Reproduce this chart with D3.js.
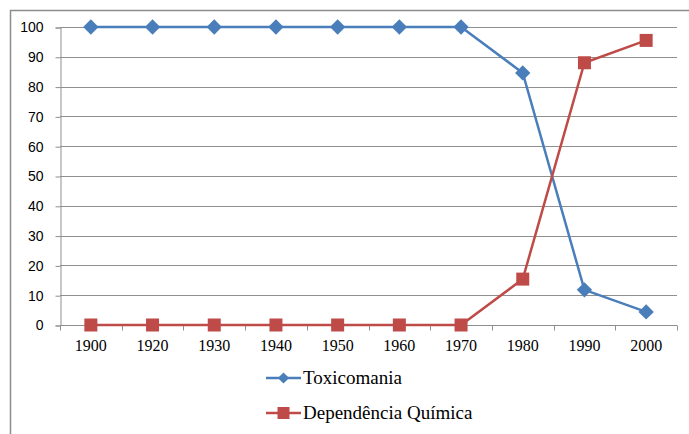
<!DOCTYPE html>
<html>
<head>
<meta charset="utf-8">
<script src="https://cdn.jsdelivr.net/npm/d3@7"></script>
<style>
  body { margin: 0; background: #fff; }
  svg { display: block; }
  .sans { font-family: "Liberation Sans", Arial, sans-serif; }
  .serif { font-family: "Liberation Serif", "Times New Roman", serif; }
</style>
</head>
<body>
<script>
// chart data
var years = ["1900", "1920", "1930", "1940", "1950", "1960", "1970", "1980", "1990", "2000"];
var toxicomania = [100, 100, 100, 100, 100, 100, 100, 84.6, 11.8, 4.4];
var dependencia = [0, 0, 0, 0, 0, 0, 0, 15.4, 88, 95.5];
var yTicks = [0, 10, 20, 30, 40, 50, 60, 70, 80, 90, 100];

function main() {
    var width = 689, height = 434;
    var left = 60, right = 677, top = 27, bottom = 325;

    var svg = d3.select("body").append("svg")
        .attr("width", width)
        .attr("height", height);

    // outer frame (right/bottom cut off)
    svg.append("path")
        .attr("d", "M10.5,434 V10.5 H689")
        .attr("fill", "none")
        .attr("stroke", "#8c8c8c")
        .attr("stroke-width", 1.5);

    var x = d3.scaleBand().domain(years).range([left, right]);
    var y = d3.scaleLinear().domain([0, 100]).range([bottom, top]);

    // gridlines
    svg.append("g").selectAll("line")
        .data(yTicks.filter(function (d) { return d > 0; }))
        .join("line")
        .attr("x1", left).attr("x2", right)
        .attr("y1", function (d) { return Math.round(y(d)) + 0.5; })
        .attr("y2", function (d) { return Math.round(y(d)) + 0.5; })
        .attr("stroke", "#8f8f8f");

    // y axis
    var yAxis = svg.append("g")
        .attr("transform", "translate(" + (left + 0.5) + ",0.5)")
        .call(d3.axisLeft(y).tickValues(yTicks).tickSize(5).tickPadding(12));
    yAxis.attr("font-family", null).attr("font-size", null);
    yAxis.select(".domain").attr("stroke", "#8f8f8f");
    yAxis.selectAll(".tick line").attr("stroke", "#8f8f8f");
    yAxis.selectAll("text")
        .attr("class", "sans")
        .style("font-size", "14px")
        .attr("fill", "#000");

    // x axis with ticks between categories
    var xAxis = svg.append("g")
        .attr("transform", "translate(0," + (bottom + 0.5) + ")");
    xAxis.append("line")
        .attr("x1", left).attr("x2", right)
        .attr("stroke", "#8f8f8f");
    xAxis.selectAll(".bt")
        .data(years.concat(["end"]))
        .join("line")
        .attr("class", "bt")
        .attr("x1", function (d, i) { return Math.round(left + i * x.bandwidth()) + 0.5; })
        .attr("x2", function (d, i) { return Math.round(left + i * x.bandwidth()) + 0.5; })
        .attr("y1", 0).attr("y2", 5)
        .attr("stroke", "#8f8f8f");
    xAxis.selectAll("text")
        .data(years)
        .join("text")
        .attr("class", "serif")
        .attr("x", function (d) { return x(d) + x.bandwidth() / 2; })
        .attr("y", 25)
        .attr("text-anchor", "middle")
        .style("font-size", "16px")
        .text(function (d) { return d; });

    var cx = function (d, i) { return x(years[i]) + x.bandwidth() / 2; };

    var line = d3.line()
        .x(function (d, i) { return cx(d, i); })
        .y(function (d) { return y(d); });

    var blue = "#4a7ebb", red = "#be4b48";

    svg.append("path").datum(toxicomania)
        .attr("d", line).attr("fill", "none")
        .attr("stroke", blue).attr("stroke-width", 2.5);
    svg.append("path").datum(dependencia)
        .attr("d", line).attr("fill", "none")
        .attr("stroke", red).attr("stroke-width", 2.5);

    var diamond = d3.symbol().type(d3.symbolDiamond2).size(150);
    svg.append("g").selectAll("path")
        .data(toxicomania)
        .join("path")
        .attr("d", diamond)
        .attr("transform", function (d, i) { return "translate(" + cx(d, i) + "," + y(d) + ")"; })
        .attr("fill", blue);

    svg.append("g").selectAll("rect")
        .data(dependencia)
        .join("rect")
        .attr("x", function (d, i) { return cx(d, i) - 6.5; })
        .attr("y", function (d) { return y(d) - 6.5; })
        .attr("width", 13).attr("height", 13)
        .attr("fill", red);

    // legend
    var legend = [
        { name: "Toxicomania", color: blue, shape: "diamond", y: 378 },
        { name: "Dependência Química", color: red, shape: "square", y: 413 }
    ];
    var lg = svg.append("g");
    legend.forEach(function (l) {
        lg.append("line")
            .attr("x1", 266).attr("x2", 301)
            .attr("y1", l.y).attr("y2", l.y)
            .attr("stroke", l.color).attr("stroke-width", 2.5);
        if (l.shape == "diamond") {
            lg.append("path")
                .attr("d", d3.symbol().type(d3.symbolDiamond2).size(80))
                .attr("transform", "translate(283.5," + l.y + ")")
                .attr("fill", l.color);
        } else {
            lg.append("rect")
                .attr("x", 277.5).attr("y", l.y - 6)
                .attr("width", 12).attr("height", 12)
                .attr("fill", l.color);
        }
        lg.append("text")
            .attr("class", "serif")
            .attr("x", 303).attr("y", l.y + 6)
            .style("font-size", "19px")
            .text(l.name);
    });
}

window.onload = main;
</script>
</body>
</html>
